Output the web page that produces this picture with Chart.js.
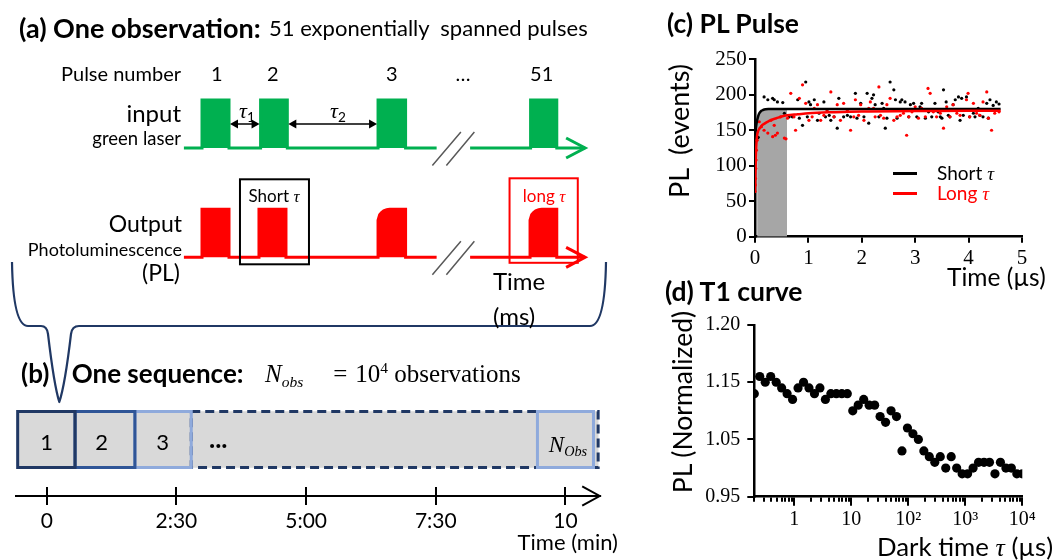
<!DOCTYPE html>
<html><head><meta charset="utf-8">
<script src="https://cdn.jsdelivr.net/npm/chart.js@4.4.1/dist/chart.umd.min.js"></script>
<style>
html,body{margin:0;padding:0;background:#fff;}
#wrap{position:relative;width:1053px;height:560px;overflow:hidden;background:#fff;}
canvas{position:absolute;}
.t{position:absolute;white-space:nowrap;line-height:1;font-family:Lato,'Open Sans',sans-serif;color:#000;}
.m{font-family:'Liberation Serif','DejaVu Serif',serif;font-style:italic;}
.sub{font-size:0.62em;position:relative;top:0.3em;}
.sup{font-size:0.62em;position:relative;top:-0.55em;}
.gap{display:inline-block;}
</style></head><body>
<div id="wrap">
<canvas id="cA" width="620" height="410" style="left:0;top:0"></canvas>
<canvas id="cB" width="620" height="180" style="left:0;top:380px"></canvas>
<canvas id="cC" width="403" height="300" style="left:650px;top:0"></canvas>
<canvas id="cD" width="403" height="270" style="left:650px;top:290px"></canvas>
</div>
<script>
// ================= DATA =================
// (a) schematic pulse train – time in units of one pulse width
const pulseNumberLabels = ['1', '2', '3', '…', '51'];
const inputPulseStart  = [0, 2.17, 6.52, 12.17];
const inputPulseEnd    = [1, 3.16, 7.54, 13.14];
const outputPulseStart = [0, 2.11, 6.52, 12.15];
const outputPulseEnd   = [1, 3.11, 7.54, 13.14];
const outputPulseKind  = ['fast', 'fast', 'slow', 'slow'];
const slowRiseX = [0, 0.06, 0.13, 0.21, 0.32, 0.43];
const slowRiseY = [0.77, 0.885, 0.933, 0.969, 0.992, 1];
const traceStart = -0.67, breakFrom = 8.69, breakTo = 9.93, traceEnd = 14.19;

// (b) one sequence – minutes
const blockLabels = ['1', '2', '3', '…', 'N_Obs'];
const blockStart  = [-0.56, 0.546, 1.70, 2.786, 9.46];
const blockEnd    = [0.546, 1.70, 2.786, 10.63, 10.54];
const seqTickValues = [0, 2.5, 5, 7.5, 10];
const seqTickLabels = ['0', '2:30', '5:00', '7:30', '10'];

// (c) PL pulse – time (µs), PL (events)
const shortTime = [0.02,0.04,0.06,0.17,0.24,0.33,0.36,0.42,0.52,0.55,0.64,0.70,0.80,0.83,0.89,0.95,0.98,1.01,1.04,1.11,1.17,1.20,1.29,1.32,1.39,1.42,1.48,1.54,1.57,1.66,1.73,1.79,1.88,1.91,1.98,2.04,2.10,2.13,2.19,2.22,2.25,2.32,2.38,2.41,2.44,2.47,2.53,2.60,2.63,2.66,2.72,2.75,2.81,2.88,2.91,2.97,3.03,3.09,3.12,3.19,3.25,3.31,3.37,3.43,3.47,3.50,3.53,3.58,3.62,3.65,3.71,3.75,3.81,3.84,3.87,3.90,3.96,4.02,4.09,4.12,4.18,4.21,4.27,4.34,4.37,4.40,4.46,4.52,4.57];
const shortPL   = [143,139,140,197,193,195,193,190,189,174,169,169,193,167,157,218,169,190,186,193,164,174,190,169,171,164,169,153,195,169,171,169,202,167,188,169,202,160,195,200,186,169,188,181,153,167,218,207,193,167,190,193,190,169,186,188,169,183,188,167,176,169,188,176,169,167,207,190,171,169,186,193,197,164,195,171,197,169,174,169,181,171,169,188,167,193,185,190,187];
const longTime = [0.00,0.005,0.01,0.015,0.02,0.025,0.04,0.08,0.12,0.17,0.24,0.30,0.33,0.36,0.38,0.42,0.48,0.55,0.58,0.61,0.67,0.73,0.76,0.83,0.89,0.95,1.01,1.07,1.11,1.17,1.23,1.29,1.35,1.42,1.48,1.54,1.60,1.66,1.73,1.79,1.85,1.88,1.94,1.98,2.04,2.13,2.16,2.22,2.25,2.32,2.35,2.41,2.47,2.53,2.60,2.66,2.72,2.78,2.84,2.88,2.94,3.00,3.06,3.12,3.19,3.24,3.28,3.34,3.40,3.47,3.53,3.59,3.65,3.71,3.78,3.84,3.90,3.96,3.99,4.02,4.09,4.15,4.21,4.27,4.34,4.37,4.43,4.49,4.57];
const longPL   = [64,73,82,96,108,122,136,162,155,150,146,164,141,157,143,146,169,139,138,167,202,169,150,195,214,188,164,169,181,186,164,171,178,204,169,186,164,188,178,150,169,193,171,186,164,181,190,181,169,211,171,167,186,195,164,169,171,174,143,169,176,183,167,181,169,209,202,176,169,174,153,183,169,186,174,171,178,193,202,169,188,174,171,190,204,167,150,174,176];
const fitTime  = [0,0.01,0.02,0.03,0.04,0.06,0.08,0.1,0.12,0.15,0.2,0.25,0.3,0.4,0.5,0.6,0.8,1.0,1.5,2.0,3.0,4.0,4.6];
const shortFit = [138,147,154,160,164,170,174,176,177.5,178.5,179.5,180,180,180,180,180,180,180,180,180,180,180,180];
const longFit  = [62,95,120,135,143,149,152,154,156,158,160.5,162.5,164.5,167,169.5,171,172.5,174,175.5,176.5,177,177.5,177.5];
const windowTime = [0.04,0.06,0.08,0.1,0.12,0.15,0.2,0.3,0.45,0.6];
const windowTop  = [164,170,174,176,177.5,178.5,179.5,180,180,180];

// (d) T1 curve – dark time (µs), PL (normalized)
const darkTime = [0.2,0.249,0.311,0.388,0.484,0.603,0.752,0.938,1.17,1.46,1.82,2.27,2.83,3.53,4.40,5.49,6.85,8.54,10.65,13.28,16.56,20.65,25.76,32.12,40.06,49.95,62.29,77.68,96.87,120.8,150.7,187.9,234.3,292.2,364.4,454.5,566.7,706.8,881.4,1099,1371,1710,2132,2659,3316,4135,5157,6431,8020,10000];
const t1PL = [1.13,1.16,1.15,1.16,1.15,1.14,1.13,1.12,1.14,1.15,1.14,1.13,1.14,1.12,1.13,1.13,1.13,1.13,1.10,1.11,1.12,1.11,1.11,1.09,1.08,1.10,1.09,1.03,1.07,1.06,1.05,1.03,1.02,1.01,1.02,1.00,1.02,1.00,0.99,0.99,1.00,1.01,1.01,1.01,0.99,1.01,1.00,1.00,0.99,0.99];
const t1MajorTicks = [1, 10, 100, 1000, 10000];
const t1MajorLabels = ['1', '10', '10²', '10³', '10⁴'];
const t1YTicks = [0.95, 1.05, 1.15, 1.25];
const t1YLabels = ['0.95', '1.05', '1.15', '1.20'];

// ================= HELPERS =================
const wrap = document.getElementById('wrap');
function addText(html, x, y, o = {}) {
  const d = document.createElement('div');
  d.className = 't';
  d.innerHTML = html;
  d.style.fontSize = (o.size || 20) + 'px';
  if (o.bold) d.style.fontWeight = 'bold';
  if (o.color) d.style.color = o.color;
  if (o.font) d.style.fontFamily = o.font;
  const ax = o.anchor || 'left';
  const tx = ax === 'left' ? '0' : ax === 'center' ? '-50%' : '-100%';
  d.style.left = x + 'px';
  d.style.top = y + 'px';
  d.style.transform = `translate(${tx},-50%)` + (o.rotate ? ` rotate(${o.rotate}deg)` : '');
  wrap.appendChild(d);
}
const zip = (xs, ys) => xs.map((x, i) => ({ x, y: ys[i] }));
const SERIF = "'Liberation Serif','DejaVu Serif',serif";
const TAU = '<span class="m">τ</span>';
Chart.defaults.font.family = "Lato, 'Open Sans', sans-serif";
Chart.defaults.color = '#000';

// ================= (a) schematic =================
const aX0 = 202, aXU = 27, aH = 410;
function buildTrace(starts, ends, kinds) {
  const pts = [{ x: traceStart, y: 0 }];
  let broke = false;
  for (let i = 0; i < starts.length; i++) {
    if (!broke && starts[i] > breakTo) {
      pts.push({ x: breakFrom, y: 0 }, { x: (breakFrom + breakTo) / 2, y: null }, { x: breakTo, y: 0 });
      broke = true;
    }
    const s = starts[i], e = ends[i];
    pts.push({ x: s, y: 0 });
    if (kinds && kinds[i] === 'slow') slowRiseX.forEach((dx, k) => pts.push({ x: s + dx, y: slowRiseY[k] }));
    else pts.push({ x: s, y: 1 });
    pts.push({ x: e, y: 1 }, { x: e, y: 0 });
  }
  pts.push({ x: traceEnd, y: 0 });
  return pts;
}
const GREEN = '#00B050', RED = '#FF0000', NAVY = '#203864';

const schematicPlugin = {
  id: 'schematic',
  afterDatasetsDraw(chart) {
    const ctx = chart.ctx, xs = chart.scales.x, yi = chart.scales.yIn, yo = chart.scales.yOut;
    ctx.save();
    ctx.lineCap = 'butt'; ctx.lineJoin = 'miter';
    [[yi, GREEN], [yo, RED]].forEach(([ys, col]) => {
      const tx = xs.getPixelForValue(traceEnd), ty = ys.getPixelForValue(0);
      ctx.strokeStyle = col; ctx.lineWidth = 3;
      ctx.beginPath(); ctx.moveTo(tx - 19, ty - 10); ctx.lineTo(tx, ty); ctx.lineTo(tx - 19, ty + 10); ctx.stroke();
      const bx = xs.getPixelForValue((breakFrom + breakTo) / 2);
      ctx.strokeStyle = '#595959'; ctx.lineWidth = 1.5;
      ctx.beginPath();
      ctx.moveTo(bx - 21, ty + 17.5); ctx.lineTo(bx + 7.5, ty - 16);
      ctx.moveTo(bx - 7, ty + 17.5); ctx.lineTo(bx + 21, ty - 16);
      ctx.stroke();
    });
    ctx.strokeStyle = '#000'; ctx.fillStyle = '#000'; ctx.lineWidth = 1.5;
    const ay = yi.getPixelForValue(0.5);
    for (let i = 0; i < 2; i++) {
      const x1 = xs.getPixelForValue(inputPulseEnd[i]) + 1, x2 = xs.getPixelForValue(inputPulseStart[i + 1]) - 1;
      ctx.beginPath(); ctx.moveTo(x1 + 6, ay); ctx.lineTo(x2 - 6, ay); ctx.stroke();
      ctx.beginPath(); ctx.moveTo(x1, ay); ctx.lineTo(x1 + 8, ay - 4.5); ctx.lineTo(x1 + 8, ay + 4.5); ctx.closePath(); ctx.fill();
      ctx.beginPath(); ctx.moveTo(x2, ay); ctx.lineTo(x2 - 8, ay - 4.5); ctx.lineTo(x2 - 8, ay + 4.5); ctx.closePath(); ctx.fill();
    }
    ctx.lineWidth = 2;
    ctx.strokeStyle = '#000';
    let l = xs.getPixelForValue(outputPulseStart[1]) - 19, r = xs.getPixelForValue(outputPulseEnd[1]) + 23;
    let t = yo.getPixelForValue(1) - 30, b = yo.getPixelForValue(0) + 7;
    ctx.strokeRect(l, t, r - l, b - t);
    ctx.strokeStyle = RED;
    l = xs.getPixelForValue(outputPulseStart[3]) - 20.5; r = xs.getPixelForValue(outputPulseEnd[3]) + 21;
    t = yo.getPixelForValue(1) - 31; b = yo.getPixelForValue(0) + 5.5;
    ctx.strokeRect(l, t, r - l, b - t);
    // curly brace under the observation
    ctx.strokeStyle = NAVY; ctx.lineWidth = 2.2; ctx.lineJoin = 'round';
    ctx.beginPath();
    ctx.moveTo(12, 262);
    ctx.quadraticCurveTo(13, 326, 28, 326);
    ctx.lineTo(41, 326);
    ctx.quadraticCurveTo(47, 326, 48, 334);
    ctx.quadraticCurveTo(54, 385, 59.3, 402);
    ctx.quadraticCurveTo(65, 385, 71, 334);
    ctx.quadraticCurveTo(72, 326, 79, 326);
    ctx.lineTo(590, 326);
    ctx.quadraticCurveTo(605, 326, 606, 262);
    ctx.stroke();
    ctx.restore();
  }
};

new Chart(document.getElementById('cA'), {
  type: 'line',
  data: {
    datasets: [
      { data: buildTrace(inputPulseStart, inputPulseEnd, null), yAxisID: 'yIn', borderColor: GREEN, backgroundColor: GREEN,
        borderWidth: 3, pointRadius: 0, fill: 'origin', tension: 0, spanGaps: false, borderJoinStyle: 'miter' },
      { data: buildTrace(outputPulseStart, outputPulseEnd, outputPulseKind), yAxisID: 'yOut', borderColor: RED, backgroundColor: RED,
        borderWidth: 3, pointRadius: 0, fill: 'origin', tension: 0, spanGaps: false, borderJoinStyle: 'miter' }
    ]
  },
  options: {
    responsive: false, animation: false, devicePixelRatio: 1,
    layout: { padding: 0 },
    plugins: { legend: { display: false }, tooltip: { enabled: false } },
    scales: {
      x: { type: 'linear', display: false, min: -aX0 / aXU, max: (620 - aX0) / aXU },
      yIn: { type: 'linear', display: false, min: -(aH - 148) / 48, max: 148 / 48 },
      yOut: { type: 'linear', display: false, min: -(aH - 257.3) / 48, max: 257.3 / 48 }
    }
  },
  plugins: [schematicPlugin]
});

// (a) texts
addText('(a) One observation:', 19, 27, { size: 27, bold: true });
addText('51 exponentially&nbsp; spanned pulses', 269, 28, { size: 22 });
addText('Pulse number', 181, 73, { size: 20, anchor: 'right' });
const pulseLabelX = [216.7, 272.7, 391.7, 463, 541.7];
pulseNumberLabels.forEach((s, i) => addText(s, pulseLabelX[i], 73, { size: 20, anchor: 'center' }));
addText('input', 181, 113, { size: 24, anchor: 'right' });
addText('green laser', 181, 138, { size: 18.5, anchor: 'right' });
addText('<span class="m">τ</span><span class="sub">1</span>', 247, 110, { size: 22, anchor: 'center' });
addText('<span class="m">τ</span><span class="sub">2</span>', 338, 110, { size: 22, anchor: 'center' });
addText('Output', 182, 223, { size: 23, anchor: 'right' });
addText('Photoluminescence', 182, 249, { size: 18, anchor: 'right' });
addText('(PL)', 180, 272, { size: 23, anchor: 'right' });
addText('Short ' + TAU, 274, 196, { size: 17, anchor: 'center' });
addText('long ' + TAU, 544, 196, { size: 17, anchor: 'center', color: RED });
addText('Time', 493, 281, { size: 24 });
addText('(ms)', 493, 316, { size: 24 });

// ================= (b) one sequence =================
const blockStroke = ['#203864', '#2F5597', '#8FAADC', '#203864', '#8FAADC'];
const blockDash = [[], [], [], [9, 5], []];
const blockDrawOrder = [3, 2, 1, 0, 4];
const seqPlugin = {
  id: 'seq',
  afterDatasetsDraw(chart) {
    const ctx = chart.ctx;
    ctx.save();
    ctx.lineWidth = 3;
    blockDrawOrder.forEach(i => {
      const el = chart.getDatasetMeta(i).data[0];
      const p = el.getProps(['x', 'y', 'base', 'height'], true);
      const l = Math.min(p.x, p.base), r = Math.max(p.x, p.base);
      ctx.strokeStyle = blockStroke[i];
      ctx.setLineDash(blockDash[i]);
      ctx.strokeRect(l, p.y - p.height / 2, r - l, p.height);
    });
    ctx.setLineDash([]);
    ctx.restore();
  },
  afterDraw(chart) {
    const ctx = chart.ctx, xs = chart.scales.x, yb = chart.chartArea.bottom, right = chart.chartArea.right;
    ctx.save();
    ctx.strokeStyle = '#000'; ctx.lineWidth = 2;
    ctx.beginPath();
    seqTickValues.forEach(v => { const px = Math.round(xs.getPixelForValue(v)); ctx.moveTo(px, yb - 9); ctx.lineTo(px, yb); });
    ctx.stroke();
    ctx.beginPath();
    ctx.moveTo(right - 17.5, yb - 9.7); ctx.lineTo(right, yb); ctx.lineTo(right - 17.5, yb + 9.7);
    ctx.stroke();
    ctx.restore();
  }
};
new Chart(document.getElementById('cB'), {
  type: 'bar',
  data: {
    labels: ['sequence'],
    datasets: blockLabels.map((lab, i) => ({
      label: lab, data: [[blockStart[i], blockEnd[i]]], backgroundColor: '#D9D9D9', borderWidth: 0,
      grouped: false, barThickness: 56
    }))
  },
  options: {
    indexAxis: 'y', responsive: false, animation: false, devicePixelRatio: 1,
    layout: { padding: { left: 15.6, right: 20.3, top: 3, bottom: 0 } },
    plugins: { legend: { display: false }, tooltip: { enabled: false } },
    scales: {
      x: {
        type: 'linear', min: -0.6, max: 10.66,
        afterBuildTicks: s => { s.ticks = seqTickValues.map(v => ({ value: v })); },
        afterFit: s => { s.height = 64; },
        ticks: { callback: (v, i) => seqTickLabels[i], font: { size: 21 }, color: '#000', padding: 4, maxRotation: 0, autoSkip: false },
        grid: { drawOnChartArea: false, drawTicks: true, tickLength: 9, color: '#000', lineWidth: 2 },
        border: { display: true, color: '#000', width: 2 }
      },
      y: { display: false }
    }
  },
  plugins: [seqPlugin]
});
addText('(b)', 21, 373, { size: 26, bold: true });
addText('One sequence:', 71.7, 373, { size: 26, bold: true });
addText('<i>N</i><span class="sub"><i>obs</i></span><span class="gap" style="width:30px"></span>=<span class="gap" style="width:8px"></span>10<span class="sup">4</span> observations', 265, 373, { size: 25, font: SERIF });
const blockLabelX = [46.7, 101.7, 162.7];
[0, 1, 2].forEach(i => addText(blockLabels[i], blockLabelX[i], 441.7, { size: 22, anchor: 'center' }));
addText('...', 209, 438, { size: 26, bold: true });
addText('<i>N</i><span class="sub"><i>Obs</i></span>', 568, 444, { size: 23, anchor: 'center', font: SERIF });
addText('Time (min)', 618, 541.7, { size: 22, anchor: 'right' });

// ================= (c) PL pulse =================
const axisStyle = {
  grid: { drawOnChartArea: false, drawTicks: true, color: '#000', lineWidth: 2 },
  border: { display: true, color: '#000', width: 2.5 }
};
new Chart(document.getElementById('cC'), {
  type: 'scatter',
  data: {
    datasets: [
      { label: 'window', type: 'line', data: zip(windowTime, windowTop), showLine: true, fill: 'origin',
        backgroundColor: '#A6A6A6', borderWidth: 0, pointRadius: 0, order: 6 },
      { label: 'Short τ data', data: zip(shortTime, shortPL), pointRadius: 1.6, backgroundColor: '#000', borderWidth: 0, order: 5 },
      { label: 'Long τ data', data: zip(longTime, longPL), pointRadius: 1.6, backgroundColor: RED, borderWidth: 0, order: 4 },
      { label: 'Short τ', type: 'line', data: zip(fitTime, shortFit), borderColor: '#000', borderWidth: 2.5,
        pointRadius: 0, cubicInterpolationMode: 'monotone', fill: false, order: 2 },
      { label: 'Long τ', type: 'line', data: zip(fitTime, longFit), borderColor: RED, borderWidth: 2.5,
        pointRadius: 0, cubicInterpolationMode: 'monotone', fill: false, order: 1 }
    ]
  },
  options: {
    responsive: false, animation: false, devicePixelRatio: 1,
    layout: { padding: { left: 0, right: 31, top: 59.3, bottom: 0 } },
    plugins: { legend: { display: false }, tooltip: { enabled: false } },
    scales: {
      x: {
        type: 'linear', min: 0, max: 5,
        afterFit: s => { s.height = 63.3; },
        ticks: { stepSize: 1, font: { family: SERIF, size: 21 }, color: '#000', padding: 3, maxRotation: 0 },
        grid: { ...axisStyle.grid, tickLength: 6 }, border: axisStyle.border
      },
      y: {
        type: 'linear', min: 0, max: 250,
        afterFit: s => { s.width = 105; },
        ticks: { stepSize: 50, font: { family: SERIF, size: 21 }, color: '#000', padding: 2.3 },
        grid: { ...axisStyle.grid, tickLength: 6 }, border: axisStyle.border
      }
    }
  }
});
addText('(c) PL Pulse', 667, 23, { size: 26.5, bold: true });
addText('PL&nbsp; (events)', 678, 131, { size: 27, anchor: 'center', rotate: -90 });
addText('Time (µs)', 947, 277, { size: 24.5 });
const legBlack = document.createElement('div');
legBlack.style.cssText = 'position:absolute;left:893px;top:171.5px;width:24px;height:3px;background:#000';
wrap.appendChild(legBlack);
const legRed = document.createElement('div');
legRed.style.cssText = 'position:absolute;left:893px;top:191.5px;width:24px;height:3px;background:#FF0000';
wrap.appendChild(legRed);
addText('Short ' + TAU, 937, 173, { size: 19 });
addText('Long ' + TAU, 937, 193, { size: 19, color: RED });

// ================= (d) T1 curve =================
const t1TickValues = [];
[0.1, 1, 10, 100, 1000].forEach(dec => { for (let k = 1; k <= 9; k++) { const v = +(dec * k).toPrecision(3); if (v >= 0.2 && v <= 10000) t1TickValues.push(v); } });
t1TickValues.push(10000);
const t1Plugin = {
  id: 't1ticks',
  afterDraw(chart) {
    const ctx = chart.ctx, xs = chart.scales.x, yb = chart.chartArea.bottom;
    ctx.save(); ctx.strokeStyle = '#000'; ctx.lineWidth = 2;
    ctx.beginPath();
    t1MajorTicks.forEach(v => { const px = Math.round(xs.getPixelForValue(v)); ctx.moveTo(px, yb + 4); ctx.lineTo(px, yb + 9); });
    ctx.stroke(); ctx.restore();
  }
};
new Chart(document.getElementById('cD'), {
  type: 'scatter',
  data: { datasets: [{ label: 'T1', data: zip(darkTime, t1PL), pointRadius: 4.6, backgroundColor: '#000', borderWidth: 0 }] },
  options: {
    responsive: false, animation: false, devicePixelRatio: 1,
    layout: { padding: { left: 0, right: 30.7, top: 35, bottom: 0 } },
    plugins: { legend: { display: false }, tooltip: { enabled: false } },
    scales: {
      x: {
        type: 'logarithmic', min: 0.2, max: 10000,
        afterBuildTicks: s => { s.ticks = t1TickValues.map(v => ({ value: v })); },
        afterFit: s => { s.height = 63.3; },
        ticks: {
          callback: v => { const i = t1MajorTicks.indexOf(v); return i >= 0 ? t1MajorLabels[i] : ''; },
          font: { family: SERIF, size: 20 }, color: '#000', padding: 6, maxRotation: 0, autoSkip: false
        },
        grid: { ...axisStyle.grid, tickLength: 5 }, border: axisStyle.border
      },
      y: {
        type: 'linear', min: 0.95, max: 1.25,
        afterBuildTicks: s => { s.ticks = t1YTicks.map(v => ({ value: v })); },
        afterFit: s => { s.width = 104.3; },
        ticks: { callback: (v, i) => t1YLabels[i], font: { family: SERIF, size: 20 }, color: '#000', padding: 7 },
        grid: { ...axisStyle.grid, tickLength: 7 }, border: axisStyle.border
      }
    }
  },
  plugins: [t1Plugin]
});
addText('(d) T1 curve', 665, 291, { size: 26.5, bold: true });
addText('PL (Normalized)', 682, 402, { size: 26.5, anchor: 'center', rotate: -90 });
addText('Dark time ' + TAU + ' (µs)', 877, 547, { size: 25.8 });
</script>
</body></html>
